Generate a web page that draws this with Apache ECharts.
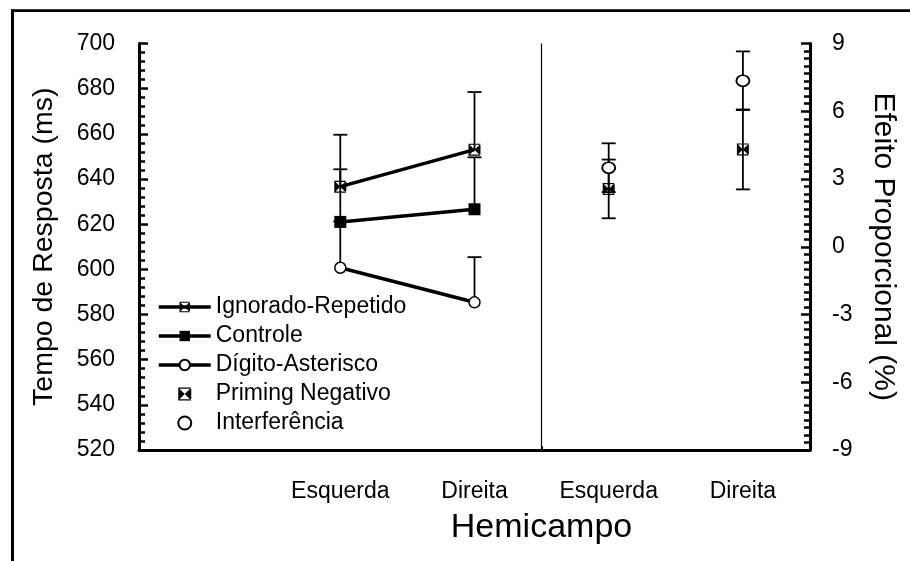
<!DOCTYPE html>
<html>
<head>
<meta charset="utf-8">
<script src="https://cdn.jsdelivr.net/npm/echarts@6/dist/echarts.min.js"></script>
<style>
  html, body { margin: 0; padding: 0; background: #fff; }
  #report { width: 910px; height: 561px; }
</style>
</head>
<body>
<div id="report"></div>
<script>
// posições no eixo x (Esquerda / Direita de cada painel)
var hemicampo = ['Esquerda', 'Direita', 'Esquerda', 'Direita'];
var posHemicampo = [3, 5, 7, 9];
var posTR = [3, 5];
var posEfeito = [7, 9];
var posDivisao = 6;

// tempo de resposta (ms) e erro (só para cima)
var trIgnorado = [636.6, 653.0];
var erroIgnorado = [23.0, 25.5];
var trControle = [621.0, 626.6];
var erroControle = [23.3, 23.0];
var trDigito = [600.7, 585.4];
var erroDigito = [20.5, 20.0];

// efeito proporcional (%) e erro (para cima e para baixo)
var efPriming = [2.56, 4.31];
var erroPriming = [1.30, 1.77];
var efInterferencia = [3.50, 7.35];
var erroInterferencia = [1.08, 1.30];

var fonte = 'Liberation Sans, Arial, sans-serif';
// quadrado com X branco
var gravata = 'path://M0,0L5,5L0,10Z M10,0L5,5L10,10Z M0,0L10,0L10,1L0,1Z M0,9L10,9L10,10L0,10Z';

function pares(xs, ys) {
    return xs.map(function (x, i) { return [x, ys[i]]; });
}
function barrasCima(xs, ys, es) {
    return xs.map(function (x, i) { return [x, ys[i], ys[i] + es[i], 0]; });
}
function barrasAmbas(xs, ys, es) {
    return xs.map(function (x, i) { return [x, ys[i] - es[i], ys[i] + es[i], 1]; });
}

function desenhaErro(params, api) {
    var x = api.value(0);
    var baixo = api.coord([x, api.value(1)]);
    var cima = api.coord([x, api.value(2)]);
    var cap = 7;
    var estilo = { stroke: '#000', lineWidth: 1.8 };
    var filhos = [
        { type: 'line', shape: { x1: baixo[0], y1: baixo[1], x2: cima[0], y2: cima[1] }, style: estilo },
        { type: 'line', shape: { x1: cima[0] - cap, y1: cima[1], x2: cima[0] + cap, y2: cima[1] }, style: estilo }
    ];
    if (api.value(3) === 1) {
        filhos.push({ type: 'line', shape: { x1: baixo[0] - cap, y1: baixo[1], x2: baixo[0] + cap, y2: baixo[1] }, style: estilo });
    }
    return { type: 'group', children: filhos };
}

var myChart = echarts.init(document.getElementById('report'));

var linha = { color: '#000', width: 3.5 };

var option = {
    animation: false,
    backgroundColor: '#fff',
    textStyle: { fontFamily: fonte, color: '#000' },
    grid: { left: 139, right: 100, top: 43.5, bottom: 111 },
    legend: {
        orient: 'vertical',
        left: 157,
        top: 295.5,
        padding: 0,
        itemWidth: 52,
        itemHeight: 13,
        itemGap: 6,
        lineStyle: { width: 3.5 },
        textStyle: { fontFamily: fonte, fontSize: 23, color: '#000', lineHeight: 23 },
        data: ['Ignorado-Repetido', 'Controle', 'Dígito-Asterisco', 'Priming Negativo', 'Interferência']
    },
    graphic: [
        { type: 'line', shape: { x1: 12.5, y1: 9.5, x2: 12.5, y2: 561 }, style: { stroke: '#000', lineWidth: 3 } },
        { type: 'line', shape: { x1: 11, y1: 10.7, x2: 910, y2: 10.7 }, style: { stroke: '#000', lineWidth: 2.7 } }
    ],
    xAxis: {
        type: 'value',
        min: 0,
        max: 10,
        splitLine: { show: false },
        axisLine: { onZero: false, lineStyle: { color: '#000', width: 3 } },
        axisTick: { show: true, inside: true, length: 4, customValues: [posDivisao], lineStyle: { color: '#000', width: 2 } },
        axisLabel: {
            customValues: posHemicampo,
            fontSize: 23,
            color: '#000',
            margin: 30,
            fontFamily: fonte,
            formatter: function (v) {
                var i = posHemicampo.indexOf(v);
                return i >= 0 ? hemicampo[i] : '';
            }
        },
        name: 'Hemicampo',
        nameLocation: 'middle',
        nameGap: 61,
        nameTextStyle: { fontSize: 34, color: '#000', fontFamily: fonte, padding: [0, 0, 0, 134] }
    },
    yAxis: [
        {
            type: 'value',
            position: 'left',
            min: 520,
            max: 700,
            interval: 20,
            splitLine: { show: false },
            axisLine: { show: true, onZero: false, lineStyle: { color: '#000', width: 3 } },
            axisTick: { show: true, inside: true, length: 9, lineStyle: { color: '#000', width: 2.5 } },
            minorTick: { show: true, splitNumber: 5, length: 6, lineStyle: { color: '#000', width: 2.5 } },
            axisLabel: { fontSize: 23, color: '#000', margin: 24, fontFamily: fonte },
            name: 'Tempo de Resposta (ms)',
            nameLocation: 'middle',
            nameGap: 80,
            nameTextStyle: { fontSize: 28.5, color: '#000', fontFamily: fonte }
        },
        {
            type: 'value',
            position: 'right',
            min: -9,
            max: 9,
            interval: 3,
            splitLine: { show: false },
            axisLine: { show: true, onZero: false, lineStyle: { color: '#000', width: 3 } },
            axisTick: { show: true, inside: true, length: 9, lineStyle: { color: '#000', width: 2.5 } },
            minorTick: { show: true, splitNumber: 9, length: 6, lineStyle: { color: '#000', width: 2.5 } },
            axisLabel: { fontSize: 23, color: '#000', margin: 22, fontFamily: fonte },
            name: 'Efeito Proporcional (%)',
            nameLocation: 'middle',
            nameRotate: -90,
            nameGap: 58,
            nameTextStyle: { fontSize: 30, color: '#000', fontFamily: fonte }
        }
    ],
    series: [
        {
            type: 'custom',
            name: 'erroTR',
            yAxisIndex: 0,
            z: 1,
            renderItem: desenhaErro,
            encode: { x: 0, y: [1, 2] },
            data: barrasCima(posTR, trIgnorado, erroIgnorado)
                .concat(barrasCima(posTR, trControle, erroControle))
                .concat(barrasCima(posTR, trDigito, erroDigito)),
            markLine: {
                silent: true,
                symbol: 'none',
                label: { show: false },
                lineStyle: { color: '#000', width: 1.2, type: 'solid' },
                data: [{ xAxis: posDivisao }]
            }
        },
        {
            type: 'custom',
            name: 'erroEfeito',
            yAxisIndex: 1,
            z: 1,
            renderItem: desenhaErro,
            encode: { x: 0, y: [1, 2] },
            data: barrasAmbas(posEfeito, efPriming, erroPriming)
                .concat(barrasAmbas(posEfeito, efInterferencia, erroInterferencia))
        },
        {
            type: 'line',
            name: 'Ignorado-Repetido',
            yAxisIndex: 0,
            z: 3,
            symbol: gravata,
            symbolSize: 12,
            lineStyle: linha,
            itemStyle: { color: '#000' },
            data: pares(posTR, trIgnorado)
        },
        {
            type: 'line',
            name: 'Controle',
            yAxisIndex: 0,
            z: 3,
            symbol: 'rect',
            symbolSize: 12,
            lineStyle: linha,
            itemStyle: { color: '#000' },
            data: pares(posTR, trControle)
        },
        {
            type: 'line',
            name: 'Dígito-Asterisco',
            yAxisIndex: 0,
            z: 3,
            symbol: 'circle',
            symbolSize: 11,
            showSymbol: true,
            lineStyle: linha,
            itemStyle: { color: '#fff', borderColor: '#000', borderWidth: 1.5 },
            data: pares(posTR, trDigito)
        },
        {
            type: 'scatter',
            name: 'Priming Negativo',
            yAxisIndex: 1,
            z: 3,
            symbol: gravata,
            symbolSize: 12,
            itemStyle: { color: '#000', opacity: 1 },
            data: pares(posEfeito, efPriming)
        },
        {
            type: 'scatter',
            name: 'Interferência',
            yAxisIndex: 1,
            z: 3,
            symbol: 'circle',
            symbolSize: [13, 11],
            itemStyle: { color: '#fff', borderColor: '#000', borderWidth: 1.8, opacity: 1 },
            data: pares(posEfeito, efInterferencia)
        }
    ]
};

myChart.setOption(option);
</script>
</body>
</html>
